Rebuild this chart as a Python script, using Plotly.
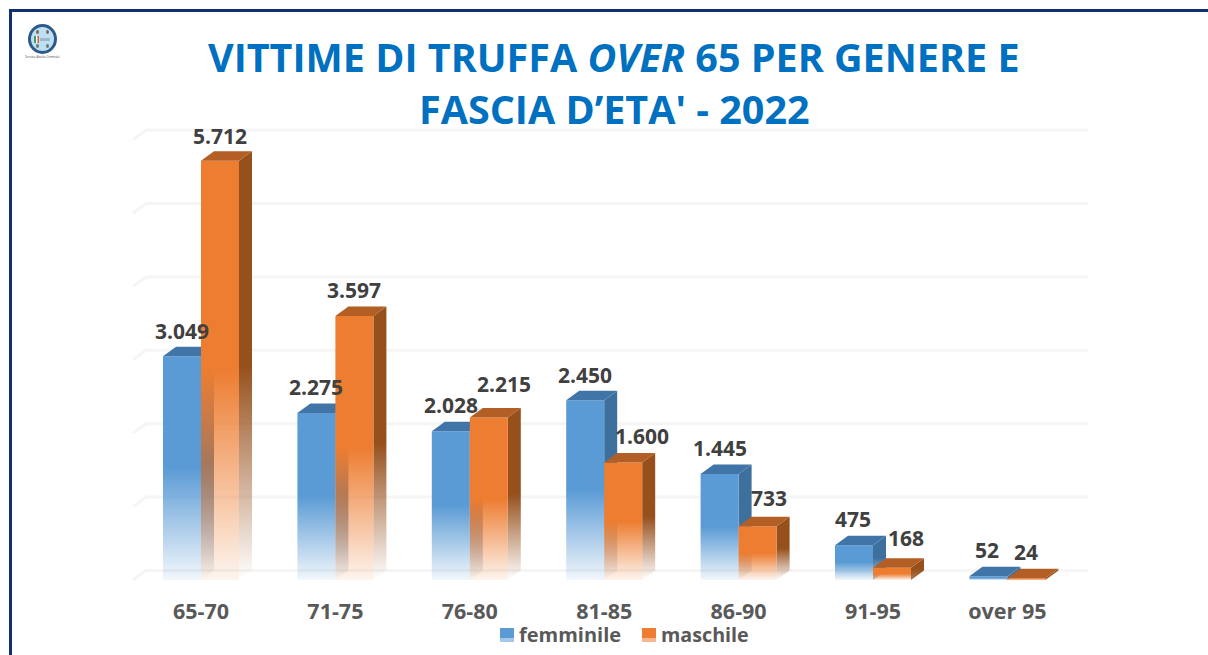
import plotly.graph_objects as go

# ---------- data ----------
categories = ["65-70", "71-75", "76-80", "81-85", "86-90", "91-95", "over 95"]
femminile = [3049, 2275, 2028, 2450, 1445, 475, 52]
maschile = [5712, 3597, 2215, 1600, 733, 168, 24]
grid_values = [0, 1000, 2000, 3000, 4000, 5000, 6000]
title_lines = ["VITTIME DI TRUFFA <i>OVER</i> 65 PER GENERE E", "FASCIA D’ETA' - 2022"]

# ---------- layout constants ----------
W, H = 1208, 655
FONT = "Open Sans"
PX_PER_CAT = 134.4
PX_PER_UNIT = 0.0734
X0_PX, Y0_PX = 201, 580
PLOT_BOTTOM = 590
BAR_PX, DEPTH_X_PX, DEPTH_Y_PX = 38, 13, 9.5
bw = BAR_PX / PX_PER_CAT
dx = DEPTH_X_PX / PX_PER_CAT
dy = DEPTH_Y_PX / PX_PER_UNIT

BLUE = (91, 155, 213)
BLUE_SIDE = (62, 112, 158)
BLUE_TOP = (65, 117, 168)
ORANGE = (237, 125, 49)
ORANGE_SIDE = (150, 80, 28)
ORANGE_TOP = (178, 94, 36)


def rgba(c, a):
    return f"rgba({c[0]},{c[1]},{c[2]},{a})"


def fade(c, low):
    return dict(
        type="vertical",
        colorscale=[[0, rgba(c, 1)], [0.5, rgba(c, 1)], [1, rgba(c, low)]],
    )


fig = go.Figure()

# gridlines on the back wall with the short diagonal on the left wall
for g in grid_values:
    xs = [-(201 - 133) / PX_PER_CAT, -(201 - 146) / PX_PER_CAT, (1088 - 201) / PX_PER_CAT]
    ys = [g, g + dy, g + dy]
    fig.add_trace(go.Scatter(x=xs, y=ys, mode="lines", hoverinfo="skip", showlegend=False,
                             line=dict(color="rgba(120,120,120,0.075)", width=3)))

# true bars (carry the series values)
for name, vals, off in [("femminile", femminile, -bw), ("maschile", maschile, 0)]:
    fig.add_trace(go.Bar(x=list(range(len(categories))), y=vals, name=name, width=bw, offset=off,
                         marker=dict(color="rgba(0,0,0,0)", line=dict(width=0)), showlegend=False))


def add_bar_faces(v, x0, front, side, top):
    x1 = x0 + bw
    # side
    g = fade(side, round(max(0.0, 1 - v / 700), 3))
    g.update(start=v + dy, stop=0)
    fig.add_trace(go.Scatter(x=[x1, x1 + dx, x1 + dx, x1, x1], y=[v, v + dy, dy, 0, v], mode="lines", fill="toself",
                             fillgradient=g, line=dict(width=0), hoverinfo="skip", showlegend=False))
    # front
    g = fade(front, 0.08)
    g.update(start=v, stop=0)
    fig.add_trace(go.Scatter(x=[x0, x1, x1, x0, x0], y=[v, v, 0, 0, v], mode="lines", fill="toself",
                             fillgradient=g, line=dict(width=0), hoverinfo="skip", showlegend=False))
    # top
    fig.add_trace(go.Scatter(x=[x0, x1, x1 + dx, x0 + dx, x0], y=[v, v, v + dy, v + dy, v], mode="lines",
                             fill="toself", fillcolor=rgba(top, 1), line=dict(width=0),
                             hoverinfo="skip", showlegend=False))


for i, v in enumerate(femminile):
    add_bar_faces(v, i - bw, BLUE, BLUE_SIDE, BLUE_TOP)
for i, v in enumerate(maschile):
    add_bar_faces(v, i, ORANGE, ORANGE_SIDE, ORANGE_TOP)


def fmt(v):
    return f"{v:,}".replace(",", ".")


annotations = []
LABEL_FONT = dict(family=FONT, size=21, color="#404040")
f_shift = [(0, 25), (0, 26), (0, 26), (0, 25), (0, 26), (-1, 26), (-1, 26)]
m_shift = [(0, 25), (0, 26), (15, 33), (19, 27), (11, 28), (14, 30), (0, 26)]
for i, (v, s) in enumerate(zip(femminile, f_shift)):
    annotations.append(dict(x=i - bw / 2, y=v, text=f"<b>{fmt(v)}</b>", showarrow=False, xshift=s[0], yshift=s[1],
                            xanchor="center", yanchor="middle", font=LABEL_FONT))
for i, (v, s) in enumerate(zip(maschile, m_shift)):
    annotations.append(dict(x=i + bw / 2, y=v, text=f"<b>{fmt(v)}</b>", showarrow=False, xshift=s[0], yshift=s[1],
                            xanchor="center", yanchor="middle", font=LABEL_FONT))


def px(x):
    return x / W


def py(y):
    return 1 - y / PLOT_BOTTOM


def paper_text(x, y, text, size, color, xanchor="center"):
    return dict(x=px(x), y=py(y), xref="paper", yref="paper", text=text, showarrow=False,
                xanchor=xanchor, yanchor="middle", font=dict(family=FONT, size=size, color=color))


annotations.append(paper_text(614, 57, f"<b>{title_lines[0]}</b>", 39.5, "#0070C0"))
annotations.append(paper_text(614, 109, f"<b>{title_lines[1]}</b>", 39.5, "#0070C0"))
annotations.append(paper_text(517, 634, "<b>femminile</b>", 20, "#595959", "left"))
annotations.append(paper_text(659, 634, "<b>maschile</b>", 19.7, "#595959", "left"))
annotations.append(paper_text(42, 57.5, "Servizio Analisi Criminale", 3, "#444444"))


def rect(x0, y0, x1, y1, color, kind="rect"):
    return dict(type=kind, xref="paper", yref="paper", x0=px(x0), x1=px(x1), y0=py(y0), y1=py(y1),
                fillcolor=color, line=dict(width=0), layer="above")


shapes = [
    # frame
    rect(10, 9, W, 12, "#0F2F6F"),
    rect(9, 9, 12, H, "#0F2F6F"),
    # legend swatches
    rect(500, 628, 514, 638, rgba(BLUE, 1)),
    rect(500, 638, 514, 642, rgba(BLUE, 0.55)),
    rect(642, 628, 656, 638, rgba(ORANGE, 1)),
    rect(642, 638, 656, 642, rgba(ORANGE, 0.55)),
    # logo
    rect(28, 24, 57, 54, "#2C5A8C", "circle"),
    rect(31, 27, 54, 51, "#BFE0F2", "circle"),
    rect(36, 30, 39, 34, "#7A6A60", "circle"),
    rect(46, 30, 49, 34, "#7A6A60", "circle"),
    rect(36, 44, 39, 48, "#6A7A70", "circle"),
    rect(46, 44, 49, 48, "#6A7A70", "circle"),
    rect(34, 36, 36, 43, "#3E9E5A"),
    rect(36, 36, 37.5, 43, "#FFFFFF"),
    rect(37.5, 36, 39, 43, "#D85A50"),
    rect(40, 38, 50, 41, "#9DB7CF"),
]

fig.update_layout(
    width=W, height=H,
    margin=dict(l=0, r=0, t=0, b=H - PLOT_BOTTOM, pad=0),
    autosize=False,
    paper_bgcolor="white", plot_bgcolor="rgba(0,0,0,0)",
    barmode="overlay", showlegend=False,
    annotations=annotations, shapes=shapes,
    xaxis=dict(range=[-X0_PX / PX_PER_CAT, (W - X0_PX) / PX_PER_CAT], tickmode="array",
               tickvals=list(range(len(categories))), ticktext=[f"<b>{c}</b>" for c in categories],
               showgrid=False, zeroline=False, showline=False, ticks="", ticklabelstandoff=6,
               tickfont=dict(family=FONT, size=21.5, color="#595959")),
    yaxis=dict(range=[(Y0_PX - PLOT_BOTTOM) / PX_PER_UNIT, Y0_PX / PX_PER_UNIT],
               visible=False, showgrid=False, zeroline=False),
)

fig.write_html("out.html", config={"displayModeBar": False}, post_script="document.body.style.margin='0';")
